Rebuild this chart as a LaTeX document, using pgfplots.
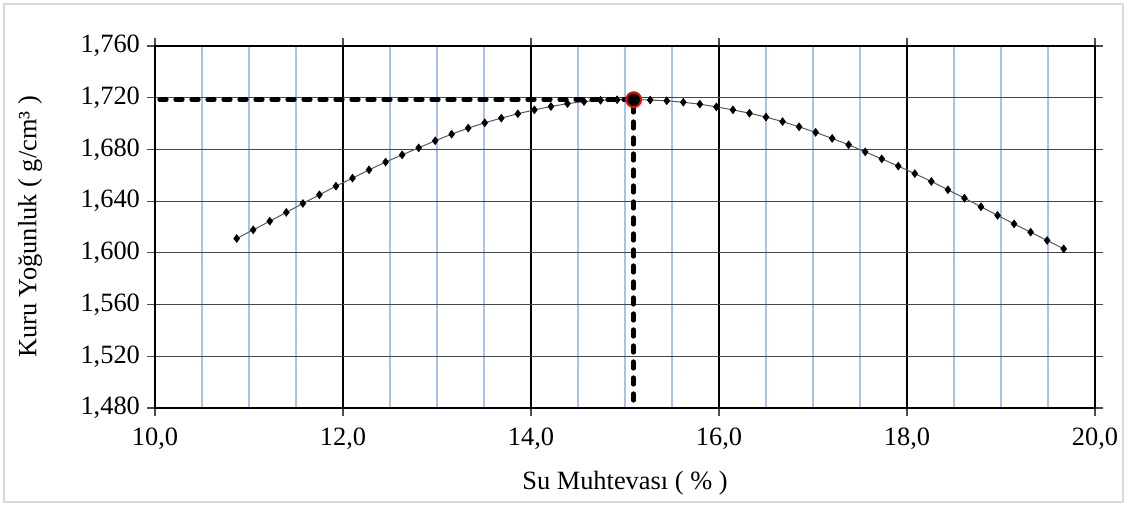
\documentclass[border=0pt]{standalone}
\usepackage{fontspec}
\setmainfont{Liberation Serif}
\usepackage{pgfplots}
\pgfplotsset{compat=1.18}

\definecolor{minorblue}{RGB}{170,194,232}
\definecolor{gridgray}{RGB}{70,70,70}
\definecolor{framegray}{RGB}{217,217,217}

% kuru yogunluk - su muhtevasi egrisi (okunan noktalar)
\pgfplotstableread{
x y
10.869 1.6111
11.045 1.6178
11.221 1.6245
11.397 1.6313
11.573 1.6382
11.749 1.6449
11.925 1.6516
12.101 1.6578
12.277 1.6642
12.453 1.6702
12.629 1.6758
12.805 1.6812
12.981 1.6867
13.156 1.6918
13.332 1.6965
13.508 1.7006
13.684 1.7042
13.860 1.7076
14.036 1.7106
14.212 1.7132
14.388 1.7154
14.564 1.7170
14.740 1.7180
14.916 1.7184
15.092 1.7185
15.268 1.7182
15.444 1.7176
15.620 1.7165
15.796 1.7150
15.972 1.7129
16.148 1.7106
16.324 1.7080
16.500 1.7050
16.676 1.7015
16.852 1.6975
17.028 1.6932
17.204 1.6885
17.379 1.6836
17.555 1.6781
17.731 1.6727
17.907 1.6671
18.083 1.6613
18.259 1.6552
18.435 1.6488
18.611 1.6423
18.787 1.6356
18.963 1.6290
19.139 1.6224
19.315 1.6160
19.491 1.6096
19.667 1.6031
}\curve

\begin{document}
\begin{tikzpicture}[font=\fontsize{13.2}{15.5}\selectfont]
\begin{axis}[
  at={(0,0)}, anchor=south west,
  scale only axis, width=470pt, height=181pt,
  xmin=10, xmax=20, ymin=1.48, ymax=1.76,
  xtick={10,12,...,20},
  minor xtick={10.5,11,11.5,12.5,13,13.5,14.5,15,15.5,16.5,17,17.5,18.5,19,19.5},
  ytick={1.48,1.52,1.56,1.60,1.64,1.68,1.72,1.76},
  tick align=outside, major tick length=4pt, minor tick length=0pt,
  xmajorgrids, ymajorgrids, xminorgrids,
  major x grid style={black, line width=0.6pt},
  major y grid style={gridgray, line width=0.6pt},
  minor x grid style={minorblue, line width=1.1pt},
  axis line style={black, line width=0.6pt},
  tick style={black!70, line width=0.6pt},
  /pgf/number format/assume math mode=true,
  x tick label style={/pgf/number format/fixed, /pgf/number format/fixed zerofill,
    /pgf/number format/precision=1, /pgf/number format/use comma, yshift=-2.5pt},
  y tick label style={/pgf/number format/fixed, /pgf/number format/fixed zerofill,
    /pgf/number format/precision=3, /pgf/number format/use comma},
  xlabel={Su Muhtevası ( \% )},
  ylabel={Kuru Yoğunluk ( g/cm³ )},
  xlabel style={at={(rel axis cs:0.5,0)}, anchor=center, yshift=-37.5pt},
  ylabel style={at={(rel axis cs:0,0.5)}, anchor=center, yshift=62.5pt},
]
\addplot[color=black!65, line width=0.5pt, mark=diamond*, mark size=1.8pt,
  mark options={black, fill=black, solid}] table[x=x, y=y] {\curve};
\addplot[black, line width=2.3pt, dash pattern=on 3.3pt off 4.7pt, line cap=round]
  coordinates {(10.05,1.7185) (15.092,1.7185) (15.092,1.48)};
\addplot[only marks, mark=*, mark size=3.7pt,
  mark options={fill=black, draw=red, line width=1pt}]
  coordinates {(15.092,1.7185)};
\end{axis}
\draw[framegray, line width=0.7pt] (-75.5pt,-47pt) rectangle (484pt,202pt);
\useasboundingbox (-77.5pt,-49pt) rectangle (486pt,204pt);
\end{tikzpicture}
\end{document}
